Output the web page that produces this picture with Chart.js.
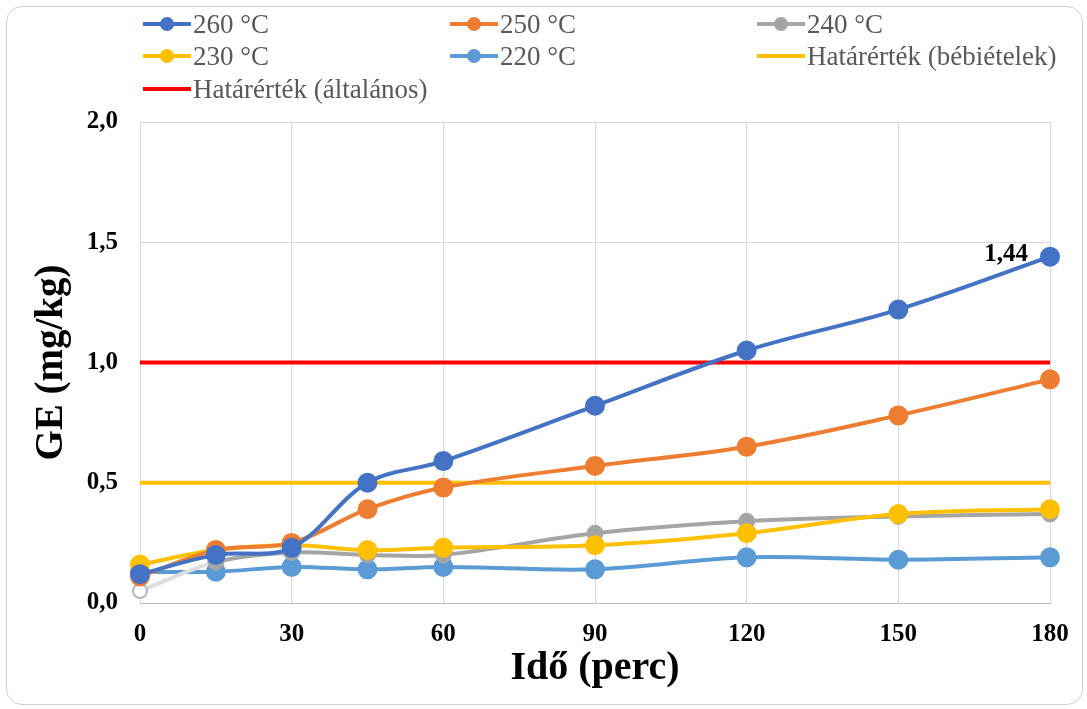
<!DOCTYPE html>
<html>
<head>
<meta charset="utf-8">
<script src="https://cdn.jsdelivr.net/npm/chart.js@4/dist/chart.umd.min.js"></script>
<style>
  html, body { margin: 0; padding: 0; background: #fff; }
  #wrap { position: relative; width: 1087px; height: 709px; }
  #frame { position: absolute; left: 6px; top: 6px; width: 1077px; height: 699px; border: 1.5px solid #cfcfcf; border-radius: 16px; box-sizing: border-box; pointer-events: none; }
  canvas { position: absolute; left: 0; top: 0; }
  .lg { position: absolute; font-family: 'Liberation Serif', 'Times New Roman', serif; font-size: 27px; color: #595959; display: flex; align-items: center; white-space: nowrap; height: 30px; }
  .ic { position: relative; width: 48px; height: 14px; margin-right: 2px; }
  .ic .ln { position: absolute; left: 0; right: 0; top: 5px; height: 4px; }
  .ic .dt { position: absolute; left: 17px; top: 0; width: 14px; height: 14px; border-radius: 50%; }
</style>
</head>
<body>
<div id="wrap">
  <canvas id="c" width="1087" height="709"></canvas>
  <div id="frame"></div>
  <div id="legend"></div>
</div>
<script>
const minutes = [0, 15, 30, 45, 60, 90, 120, 150, 180];
const s260 = [0.12, 0.20, 0.23, 0.50, 0.59, 0.82, 1.05, 1.22, 1.44];
const s250 = [0.11, 0.22, 0.25, 0.39, 0.48, 0.57, 0.65, 0.78, 0.93];
const s240 = [0.05, 0.17, 0.21, 0.20, 0.20, 0.29, 0.34, 0.36, 0.37];
const s230 = [0.16, 0.22, 0.24, 0.22, 0.23, 0.24, 0.29, 0.37, 0.39];
const s220 = [0.13, 0.13, 0.15, 0.14, 0.15, 0.14, 0.19, 0.18, 0.19];
const limitX = [0, 180];
const limitBaby = [0.5, 0.5];
const limitGeneral = [1.0, 1.0];
const yTicks = [0, 0.5, 1.0, 1.5, 2.0];
const xTicks = [0, 30, 60, 90, 120, 150, 180];
const labels = ['260 °C', '250 °C', '240 °C', '230 °C', '220 °C', 'Határérték (bébiételek)', 'Határérték (általános)'];
const colors = ['#4472C4', '#ED7D31', '#A5A5A5', '#FFC000', '#5B9BD5', '#FFC000', '#FF0000'];

const pts = (arr) => minutes.map((m, i) => ({x: m, y: arr[i]}));
const lim = (arr) => limitX.map((m, i) => ({x: m, y: arr[i]}));

function series(idx, arr) {
  return {
    label: labels[idx], data: pts(arr),
    borderColor: colors[idx], backgroundColor: colors[idx],
    pointBackgroundColor: colors[idx], pointBorderColor: colors[idx],
    borderWidth: 4, pointRadius: 8, pointHoverRadius: 8, tension: 0.35,
    clip: false
  };
}
const d240 = series(2, s240);
d240.pointBackgroundColor = minutes.map((m, i) => i === 0 ? '#ffffff' : colors[2]);
d240.pointBorderColor = minutes.map((m, i) => i === 0 ? '#b8b8b8' : colors[2]);
d240.pointBorderWidth = minutes.map((m, i) => i === 0 ? 2 : 1);
d240.pointRadius = minutes.map((m, i) => i === 0 ? 7 : 8);
d240.segment = { borderColor: ctx => ctx.p0DataIndex === 0 ? '#dedede' : undefined };

const datasets = [
  {label: labels[6], data: lim(limitGeneral), borderColor: colors[6], borderWidth: 4, pointRadius: 0, tension: 0, order: 10},
  {label: labels[5], data: lim(limitBaby), borderColor: colors[5], borderWidth: 4, pointRadius: 0, tension: 0, order: 10},
  Object.assign(series(4, s220), {order: 5}),
  Object.assign(d240, {order: 4}),
  Object.assign(series(3, s230), {order: 3}),
  Object.assign(series(1, s250), {order: 2}),
  Object.assign(series(0, s260), {order: 1})
];

const labelPlugin = {
  id: 'lastLabel',
  afterDatasetsDraw(chart) {
    const {ctx, scales} = chart;
    const last = s260.length - 1;
    const x = scales.x.getPixelForValue(minutes[last]);
    const y = scales.y.getPixelForValue(s260[last]);
    ctx.save();
    ctx.font = 'bold 25px "Liberation Serif", serif';
    ctx.fillStyle = '#000';
    ctx.textAlign = 'right';
    ctx.textBaseline = 'middle';
    ctx.fillText(s260[last].toFixed(2).replace('.', ','), x - 22, y - 2);
    ctx.restore();
  }
};

const fmt = v => v.toFixed(1).replace('.', ',');

new Chart(document.getElementById('c'), {
  type: 'line',
  data: { datasets },
  plugins: [labelPlugin],
  options: {
    responsive: false, animation: false,
    layout: { padding: { left: 0, top: 122, right: 37, bottom: 0 } },
    plugins: { legend: { display: false }, tooltip: { enabled: false } },
    scales: {
      x: {
        type: 'linear', min: 0, max: 180,
        afterBuildTicks: s => { s.ticks = xTicks.map(v => ({value: v})); },
        afterFit: s => { s.height = 106; },
        grid: { color: '#d9d9d9', lineWidth: 1, drawTicks: false },
        border: { color: '#bfbfbf', width: 1 },
        ticks: { color: '#000', padding: 17, font: { family: 'Liberation Serif', size: 25, weight: 'bold' } },
        title: { display: true, text: 'Idő (perc)', color: '#000', padding: { top: 0, bottom: 16 }, font: { family: 'Liberation Serif', size: 40, weight: 'bold' } }
      },
      y: {
        min: 0, max: 2,
        afterBuildTicks: s => { s.ticks = yTicks.map(v => ({value: v})); },
        afterFit: s => { s.width = 140; },
        grid: { color: '#d9d9d9', lineWidth: 1, drawTicks: false },
        border: { display: false },
        ticks: { color: '#000', padding: 22, callback: v => fmt(v), font: { family: 'Liberation Serif', size: 25, weight: 'bold' } },
        title: { display: true, text: 'GE (mg/kg)', color: '#000', padding: { top: 29, bottom: 0 }, font: { family: 'Liberation Serif', size: 39, weight: 'bold' } }
      }
    }
  }
});

// legend (HTML)
const legendItems = [
  {i: 0, col: 0, row: 0, marker: true}, {i: 1, col: 1, row: 0, marker: true}, {i: 2, col: 2, row: 0, marker: true},
  {i: 3, col: 0, row: 1, marker: true}, {i: 4, col: 1, row: 1, marker: true}, {i: 5, col: 2, row: 1, marker: false},
  {i: 6, col: 0, row: 2, marker: false}
];
const colX = [143, 450, 757];
const rowY = [24, 56, 89];
const lg = document.getElementById('legend');
legendItems.forEach(it => {
  const d = document.createElement('div');
  d.className = 'lg';
  d.style.left = colX[it.col] + 'px';
  d.style.top = (rowY[it.row] - 15) + 'px';
  const ic = document.createElement('div');
  ic.className = 'ic';
  ic.innerHTML = '<div class="ln" style="background:' + colors[it.i] + '"></div>' +
    (it.marker ? '<div class="dt" style="background:' + colors[it.i] + '"></div>' : '');
  d.appendChild(ic);
  const t = document.createElement('span');
  t.textContent = labels[it.i];
  d.appendChild(t);
  lg.appendChild(d);
});
</script>
</body>
</html>
